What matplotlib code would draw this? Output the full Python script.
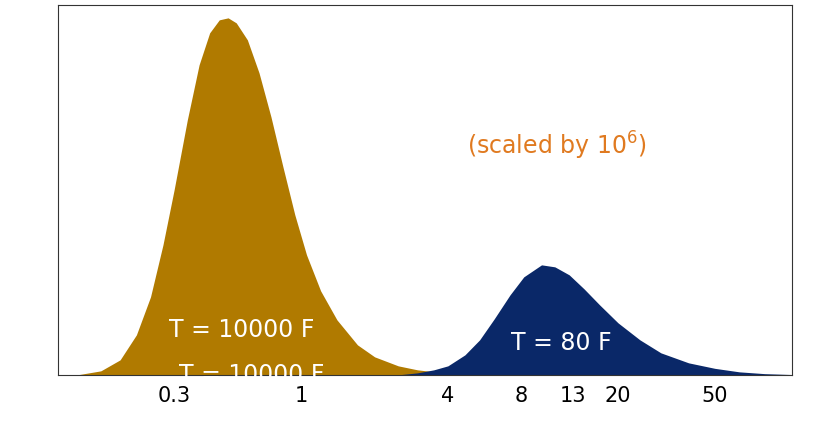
import numpy as np
import matplotlib.pyplot as plt

# wavelength (log axis) and heights, arbitrary units
hot_x = [0.12, 0.15, 0.18, 0.21, 0.24, 0.27, 0.30, 0.34, 0.38, 0.42, 0.46, 0.50, 0.54, 0.60,
         0.67, 0.75, 0.84, 0.94, 1.05, 1.2, 1.4, 1.7, 2.0, 2.5, 3.0, 3.7, 4.5]
hot_y = [0, 4, 15, 40, 78, 130, 185, 255, 310, 342, 355, 357, 352, 335,
         302, 258, 208, 160, 120, 84, 55, 30, 18, 9, 5, 2.5, 1]
cold_x = [2.5, 3.0, 3.5, 4.0, 4.7, 5.4, 6.2, 7.2, 8.2, 9.7, 11, 12.6, 14.5, 16.8,
          20, 24.6, 30, 39, 50, 63, 80, 104]
cold_y = [0, 2, 5, 9, 20, 35, 56, 80, 98, 110, 108, 100, 86, 70,
          52, 35, 22, 12, 6.5, 3, 1.2, 0.3]
tick_vals = [0.3, 1, 4, 8, 13, 20, 50]
tick_text = ["0.3", "1", "4", "8", "13", "20", "50"]

fig = plt.figure(figsize=(8.2, 4.41), dpi=100)
ax = fig.add_axes([0.0707, 0.15, 0.8955, 0.839])
ax.set_xscale("log")

# hot curve tail continues under the cold one
ax.fill_between(hot_x, hot_y, color="#B07A00", lw=0)
ax.fill_between(cold_x, cold_y, color="#0A2868", lw=0)

ax.set_xlim(0.1, 104)
ax.set_ylim(0, 370)
ax.set_yticks([])
ax.set_xticks(tick_vals)
ax.set_xticklabels(tick_text, fontsize=15, fontweight="medium")
ax.xaxis.set_minor_locator(plt.NullLocator())
ax.tick_params(axis="x", length=0, pad=8)
for s in ax.spines.values():
    s.set_linewidth(0.8)
    s.set_color("#333333")

ax.text(0.68, 0.62, "(scaled by 10$^6$)", transform=ax.transAxes, color="#E07A20",
        fontsize=17, ha="center", va="center")
ax.text(0.625, 0.155, "T = 10000 F", transform=ax.transData, color="white",
        fontsize=17, ha="center", va="center")
ax.text(0.25, 0.12, "T = 10000 F", transform=ax.transAxes, color="white",
        fontsize=17, ha="center", va="center")
ax.text(0.685, 0.085, "T = 80 F", transform=ax.transAxes, color="white",
        fontsize=17, ha="center", va="center")

fig.savefig("out.png")
